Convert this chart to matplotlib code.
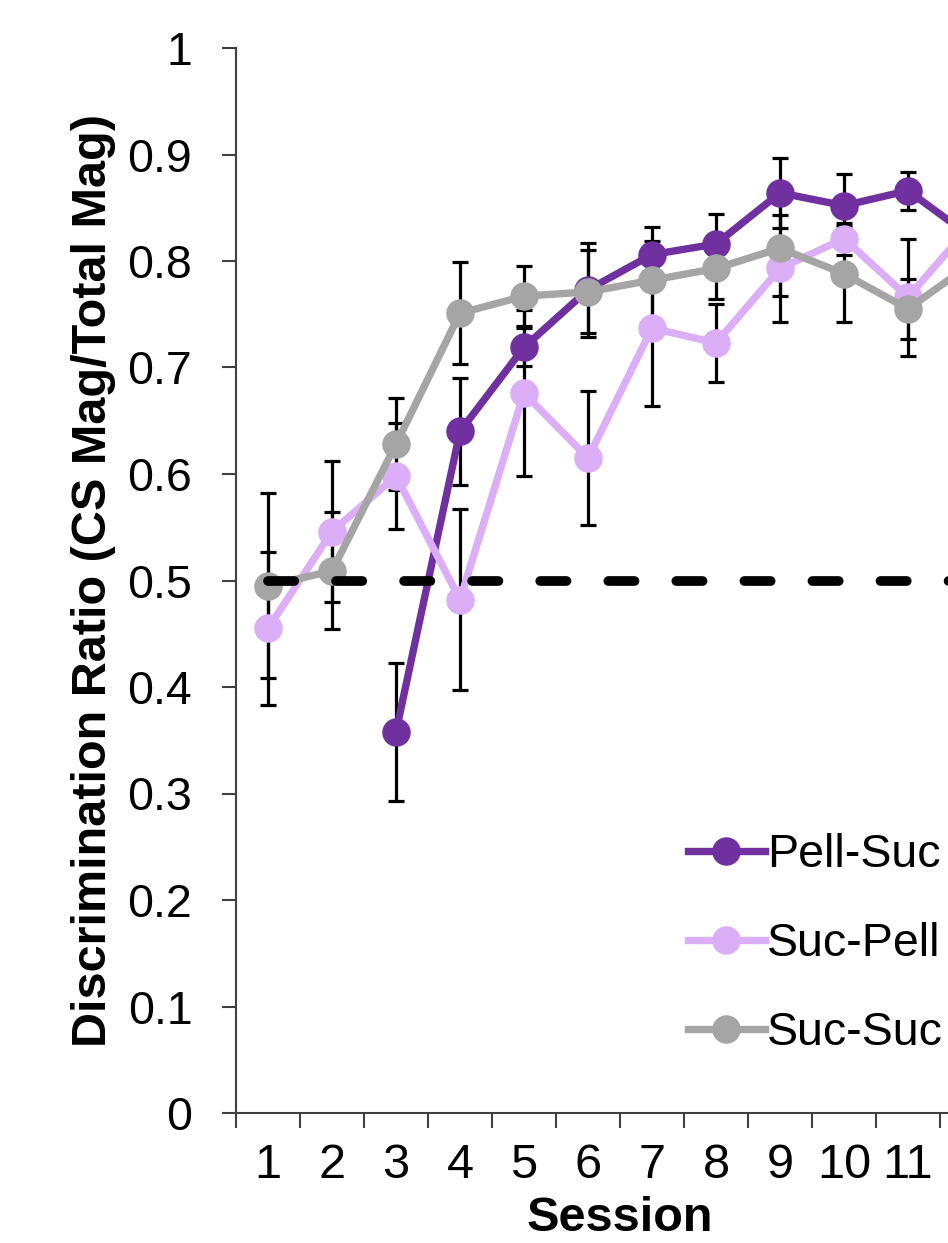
"""
Courbe du ratio de discrimination par session (trois groupes).
"""

import matplotlib
matplotlib.use('Agg')
import matplotlib.pyplot as plt
import numpy as np

# Données
sessions = np.arange(1, 13)
session_labels = [str(s) for s in sessions]

pell_suc = [np.nan, np.nan, 0.358, 0.640, 0.719, 0.773, 0.806, 0.816, 0.864, 0.852, 0.866, 0.822]
pell_suc_err = [np.nan, np.nan, 0.065, 0.050, 0.018, 0.044, 0.026, 0.028, 0.033, 0.030, 0.018, 0.030]

suc_pell = [0.455, 0.546, 0.598, 0.482, 0.676, 0.615, 0.737, 0.723, 0.793, 0.821, 0.766, 0.835]
suc_pell_err = [0.072, 0.066, 0.050, 0.085, 0.078, 0.063, 0.073, 0.037, 0.050, 0.015, 0.055, 0.040]

suc_suc = [0.495, 0.509, 0.628, 0.751, 0.767, 0.771, 0.782, 0.793, 0.812, 0.788, 0.755, 0.798]
suc_suc_err = [0.087, 0.055, 0.043, 0.048, 0.028, 0.039, 0.037, 0.029, 0.045, 0.045, 0.028, 0.030]

chance_level = [0.5] * len(sessions)

series = [
    ("Pell-Suc", pell_suc, pell_suc_err, '#7030A0'),
    ("Suc-Pell", suc_pell, suc_pell_err, '#DCAEF7'),
    ("Suc-Suc", suc_suc, suc_suc_err, '#A5A5A5'),
]

plt.rcParams['font.family'] = ['Liberation Sans', 'DejaVu Sans']

fig = plt.figure(figsize=(9.48, 12.43), dpi=100)
# l'axe déborde à droite : la figure d'origine est rognée
ax = fig.add_axes([236 / 948, 130 / 1243, 768 / 948, 1065 / 1243])

for i, (name, vals, err, color) in enumerate(series):
    ax.errorbar(sessions, vals, yerr=err, fmt='none', ecolor='black',
                elinewidth=2.3, capsize=5.8, capthick=2.3, zorder=1.5)
    ax.plot(sessions, vals, color=color, lw=5.3, marker='o', markersize=19.5,
            label=name, zorder=2 + i * 0.1)

ax.plot(sessions, chance_level, color='black', lw=7, linestyle=(0, (2.7, 4.3)),
        dash_capstyle='round', zorder=3)

ax.set_xlim(0.5, 12.5)
ax.set_ylim(0, 1)
ax.set_yticks(np.arange(0, 1.01, 0.1))
ax.set_yticklabels(['0', '0.1', '0.2', '0.3', '0.4', '0.5', '0.6', '0.7', '0.8', '0.9', '1'])
ax.set_xticks(np.arange(0.5, 12.6, 1))
ax.set_xticklabels([])
ax.set_xticks(sessions, minor=True)
ax.set_xticklabels(session_labels, minor=True)

ax.tick_params(axis='y', direction='out', length=10, width=1.5, pad=21.5,
               labelsize=33.5, colors='#404040', labelcolor='black')
ax.tick_params(axis='x', which='major', direction='out', length=10.8, width=1.5,
               colors='#404040')
ax.tick_params(axis='x', which='minor', length=0, pad=21.5, labelsize=35)

for side in ['top', 'right']:
    ax.spines[side].set_visible(False)
for side in ['left', 'bottom']:
    ax.spines[side].set_color('#404040')
    ax.spines[side].set_linewidth(1.5)

ax.set_ylabel("Discrimination Ratio (CS Mag/Total Mag)", fontsize=35,
              fontweight='bold', labelpad=8)
ax.set_xlabel("Session", fontsize=35, fontweight='bold', labelpad=6)

ax.legend(loc='upper left', bbox_to_anchor=(688 / 948, (1243 - 833) / 1243),
          bbox_transform=fig.transFigure, frameon=False, fontsize=33.5,
          handlelength=1.65, handletextpad=0.05, labelspacing=0.97,
          borderpad=0, borderaxespad=0)

fig.savefig('out.png', dpi=100)
plt.close(fig)
